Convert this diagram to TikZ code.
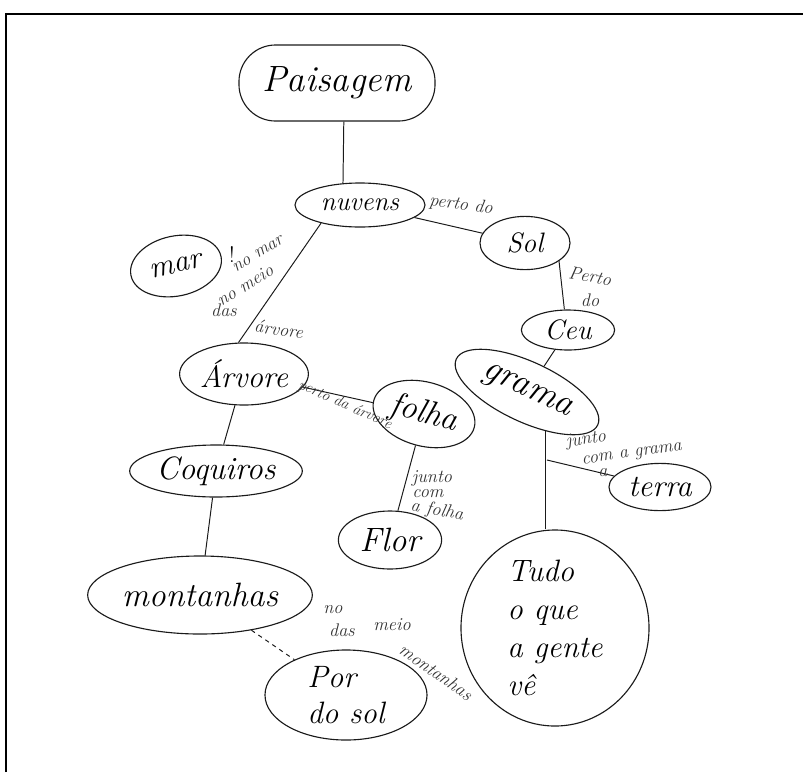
\documentclass[tikz,border=0pt]{standalone}
\usepackage{fontspec}
\usetikzlibrary{shapes.geometric, positioning}
\definecolor{inkBlack}{HTML}{1A1A1A}
\definecolor{inkGrey}{HTML}{333333}
\newcommand{\hand}[1]{\fontsize{#1}{#1}\selectfont}
\tikzset{
  frameline/.style = {line width=2pt, black},
  concept/.style   = {ellipse, draw=inkBlack, line width=0.8pt, inner sep=1pt, font=\itshape},
  topbox/.style    = {rectangle, rounded corners=26pt, draw=inkBlack, line width=0.8pt, font=\itshape},
  link/.style      = {draw=inkBlack, line width=0.7pt},
  lbl/.style       = {font=\itshape\hand{13}, inkGrey, inner sep=0pt},
}

\begin{document}
\begin{tikzpicture}[x=0.025cm, y=-0.025cm]
\useasboundingbox (0,0) rectangle (803,772);
\draw[frameline] (6,772) |- (803,14);

% concepts (pixel grid of the sheet)
\node[topbox, minimum width=4.9cm, minimum height=1.9cm, font=\itshape\hand{26}] (paisagem) at (337,83) {Paisagem};
\node[concept, minimum width=3.25cm, minimum height=1.1cm, font=\itshape\hand{19}] (nuvens) at (360,205) {nuvens};
\node[concept, minimum width=2.25cm, minimum height=1.33cm, font=\itshape\hand{20}] (sol) at (525,243) {Sol};
\node[concept, rotate=12, minimum width=2.3cm, minimum height=1.5cm, font=\itshape\hand{22}] (mar) at (176,266) {mar};
\node[font=\hand{16}] (excl) at (232,255) {!};
\node[concept, minimum width=2.33cm, minimum height=1.0cm, font=\itshape\hand{20}] (ceu) at (568,330) {Ceu};
\node[concept, rotate=-25, minimum width=3.9cm, minimum height=1.5cm, font=\itshape\hand{26}] (grama) at (527,392) {grama};
\node[concept, minimum width=3.05cm, minimum height=1.55cm, font=\itshape\hand{22}] (arvore) at (244,374) {Árvore};
\node[concept, rotate=-15, minimum width=2.6cm, minimum height=1.6cm, font=\itshape\hand{24}] (folha) at (424,414) {folha};
\node[concept, minimum width=2.55cm, minimum height=1.18cm, font=\itshape\hand{22}] (terra) at (660,487) {terra};
\node[concept, minimum width=3.68cm, minimum height=1.3cm, font=\itshape\hand{23}] (coquiros) at (216,471) {Coquiros};
\node[concept, minimum width=2.58cm, minimum height=1.45cm, font=\itshape\hand{24}] (flor) at (390,540) {Flor};
\node[concept, minimum width=5.18cm, minimum height=1.95cm, font=\itshape\hand{24}] (montanhas) at (200,595) {montanhas};
\node[concept, minimum width=4.7cm, minimum height=4.9cm, align=left, font=\itshape\fontsize{22}{27}\selectfont] (tudo) at (555,628) {Tudo\\ o que\\ a gente\\ vê};
\node[concept, minimum width=4.05cm, minimum height=2.25cm, align=left, font=\itshape\fontsize{22}{26}\selectfont] (pordosol) at (346,695) {Por\\ do sol};

% connectors
\coordinate (gramafoot) at (545,430);
\coordinate (branch) at (547,460);
\draw[link] (paisagem.-80) -- (nuvens.128);
\draw[link] (nuvens) -- (sol);
\draw[link] (nuvens.205) -- (arvore.100);
\draw[link] (sol.-28) -- (ceu.100);
\draw[link] (ceu) -- (grama);
\draw[link] (gramafoot) -- (tudo.north -| gramafoot);
\draw[link] (branch) -- (terra);
\draw[link] (arvore) -- (folha);
\draw[link] (folha) -- (flor);
\draw[link] (arvore) -- (coquiros);
\draw[link] (coquiros) -- (montanhas);
\draw[link, dashed] (montanhas) -- (pordosol);

% linking words
\node[lbl, rotate=-8] (l1) at (461,205) {perto do};
\node[lbl, rotate=-10] (l2) at (590,276) {Perto};
\node[lbl] (l3) at (590,300) {do};
\node[lbl, rotate=32] (l4) at (258,254) {no mar};
\node[lbl, rotate=32] (l5) at (245,285) {no meio};
\node[lbl] (l6) at (224,310) {das};
\node[lbl, rotate=-8] (l7) at (279,329) {árvore};
\node[lbl, rotate=-24, font=\itshape\hand{11}] (l8) at (345,405) {perto da árvore};
\node[lbl] (l9) at (432,478) {junto};
\node[lbl] (l10) at (428,494) {com};
\node[lbl, rotate=-10] (l11) at (437,511) {a folha};
\node[lbl, rotate=8] (l12) at (586,440) {junto};
\node[lbl, rotate=8] (l13) at (632,455) {com a grama};
\node[lbl] (l14) at (603,473) {a};
\node[lbl] (l15) at (333,610) {no};
\node[lbl] (l16) at (342,630) {das};
\node[lbl] (l17) at (392,625) {meio};
\node[lbl, rotate=-35] (l18) at (436,672) {montanhas};
\end{tikzpicture}
\end{document}
